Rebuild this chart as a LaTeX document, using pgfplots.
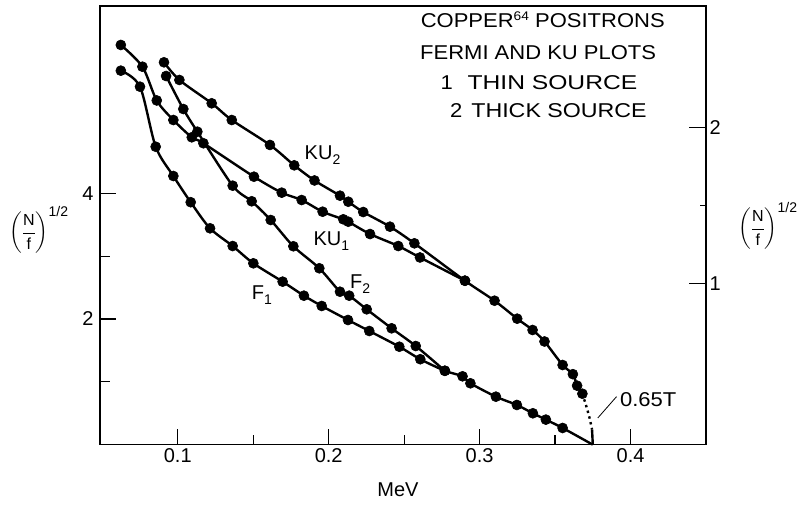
\documentclass[border=0pt]{standalone}
\usepackage{amsmath}
\usepackage{graphicx}
\usepackage{fontspec}
\setmainfont{Liberation Sans}
\newfontfamily\widefont{Liberation Sans}[FakeStretch=1.1]
\usepackage{pgfplots}
\pgfplotsset{compat=1.18}
\newcommand\sub[1]{\raisebox{-5.5pt}{\fontsize{14}{14}\selectfont #1}}
\newcommand\sups[1]{\raisebox{7pt}{\fontsize{12.5}{12.5}\selectfont #1}}

\pgfplotstableread{
x y
0.0623 5.951
0.0750 5.696
0.0854 4.741
0.0971 4.275
0.1086 3.858
0.1214 3.443
0.1364 3.161
0.1501 2.886
0.1695 2.594
0.1836 2.371
0.1954 2.207
0.2128 1.984
0.2269 1.809
0.2468 1.559
0.2607 1.360
0.2770 1.176
0.2887 1.088
0.2939 0.977
0.3108 0.764
0.3247 0.632
0.3353 0.500
0.3439 0.399
0.3550 0.266
0.3750 0.000
}\Fone

\pgfplotstableread{
x y
0.0923 5.866
0.1037 5.341
0.1130 4.980
0.1364 4.121
0.1490 3.873
0.1616 3.575
0.1766 3.157
0.1938 2.807
0.2075 2.434
0.2136 2.371
0.2252 2.154
0.2417 1.852
0.2577 1.570
0.2770 1.176
}\Ftwo

\pgfplotstableread{
x y
0.0623 6.360
0.0766 6.014
0.0861 5.477
0.0971 5.166
0.1093 4.891
0.1170 4.796
0.1505 4.264
0.1689 4.010
0.1821 3.893
0.1960 3.707
0.2097 3.586
0.2130 3.548
0.2274 3.352
0.2461 3.161
0.2605 2.979
0.2903 2.609
}\KUone

\pgfplotstableread{
x y
0.0909 6.084
0.1011 5.803
0.1225 5.432
0.1358 5.166
0.1611 4.769
0.1772 4.445
0.1906 4.204
0.2075 3.962
0.2130 3.866
0.2229 3.702
0.2406 3.469
0.2568 3.204
0.2903 2.609
0.3099 2.291
0.3249 2.005
0.3351 1.825
0.3430 1.642
0.3550 1.268
0.3618 1.122
0.3646 0.939
0.3681 0.811
}\KUtwo

\pgfplotstableread{
x y
0.3681 0.811
0.3706 0.620
0.3728 0.430
0.3745 0.240
}\KUdot

\begin{document}
\begin{tikzpicture}[font=\fontsize{20}{24}\selectfont]
\useasboundingbox (-100pt,-63.3pt) rectangle (700pt,444.7pt);
\begin{axis}[
  at={(0,0)}, anchor=south west,
  scale only axis, width=606pt, height=438.7pt,
  xmin=0.0485, xmax=0.45, ymin=0, ymax=6.98,
  axis line style={line width=1.4pt},
  tick pos=left, tick align=inside,
  xtick={0.1,0.2,0.3,0.4}, minor xtick={0.15,0.25,0.35},
  ytick={2,4}, minor ytick={1,3},
  major tick length=16pt, minor tick length=10pt,
  tick style={line width=1.2pt, black},
  /pgf/number format/assume math mode=true,
  xticklabel style={/pgf/number format/.cd, fixed, precision=1},
  yticklabel style={xshift=-3pt},
  clip=false,
  every axis plot/.append style={line width=2.4pt, black},
]
\addplot[smooth, tension=0.5, mark=*, mark size=5pt, mark options={solid, line width=0.6pt}, mark indices={1,...,23}] table {\Fone};
\addplot[smooth, tension=0.5, mark=*, mark size=5pt, mark options={solid, line width=0.6pt}] table {\Ftwo};
\addplot[smooth, tension=0.5, mark=*, mark size=5pt, mark options={solid, line width=0.6pt}] table {\KUone};
\addplot[smooth, tension=0.5, mark=*, mark size=5pt, mark options={solid, line width=0.6pt}] table {\KUtwo};
\addplot[smooth, no markers, dash pattern=on 2.4pt off 3.5pt] table {\KUdot};
\addplot[no markers] coordinates {(0.3745,0.24) (0.3750,0)};

\draw[line width=0.8pt] (axis cs:0.3783,0.425) -- (axis cs:0.3907,0.764);
\node[anchor=west, inner sep=0] at (axis cs:0.3929,0.711) {\widefont 0.65T};

\node[anchor=base west, inner sep=0] at (axis cs:0.1840,4.541) {KU\sub{2}};
\node[anchor=base west, inner sep=0] at (axis cs:0.1899,3.177) {KU\sub{1}};
\node[anchor=base west, inner sep=0] at (axis cs:0.2141,2.490) {F\sub{2}};
\node[anchor=base west, inner sep=0] at (axis cs:0.1490,2.318) {F\sub{1}};

\node[anchor=base west, inner sep=0] at (axis cs:0.2609,6.635) {\widefont COPPER\sups{64} POSITRONS};
\node[anchor=base west, inner sep=0] at (axis cs:0.2605,6.121) {\widefont FERMI AND KU PLOTS};
\node[anchor=base west, inner sep=0] at (axis cs:0.2741,5.655) {\widefont 1};
\node[anchor=base west, inner sep=0] at (axis cs:0.2919,5.655) {\scalebox{1.12}[1]{\widefont THIN SOURCE}};
\node[anchor=base west, inner sep=0] at (axis cs:0.2803,5.209) {\widefont 2};
\node[anchor=base west, inner sep=0] at (axis cs:0.2944,5.209) {\scalebox{1.055}[1]{\widefont THICK SOURCE}};
\end{axis}

\begin{axis}[
  at={(0,0)}, anchor=south west,
  scale only axis, width=606pt, height=438.7pt,
  xmin=0.0485, xmax=0.45, ymin=0, ymax=6.98,
  hide x axis, axis y line*=right,
  axis line style={line width=1.4pt, -},
  ytick={2.568,5.044}, yticklabels={1,2}, minor ytick={3.806},
  tick align=inside,
  major tick length=17pt, minor tick length=6pt,
  tick style={line width=1.2pt, black},
  /pgf/number format/assume math mode=true,
]
\addplot[draw=none] coordinates {(0.1,1)};
\end{axis}

\node at (298pt,-45.3pt) {MeV};
\node[anchor=west, inner sep=0] at (-91pt,214.7pt) {\fontsize{16}{19}\selectfont$\left(\dfrac{\text{N}}{\text{f}}\right)^{\text{\fontsize{14}{14}\selectfont 1/2}}$};
\node[anchor=west, inner sep=0] at (638pt,218.7pt) {\fontsize{16}{19}\selectfont$\left(\dfrac{\text{N}}{\text{f}}\right)^{\text{\fontsize{14}{14}\selectfont 1/2}}$};
\end{tikzpicture}
\end{document}
